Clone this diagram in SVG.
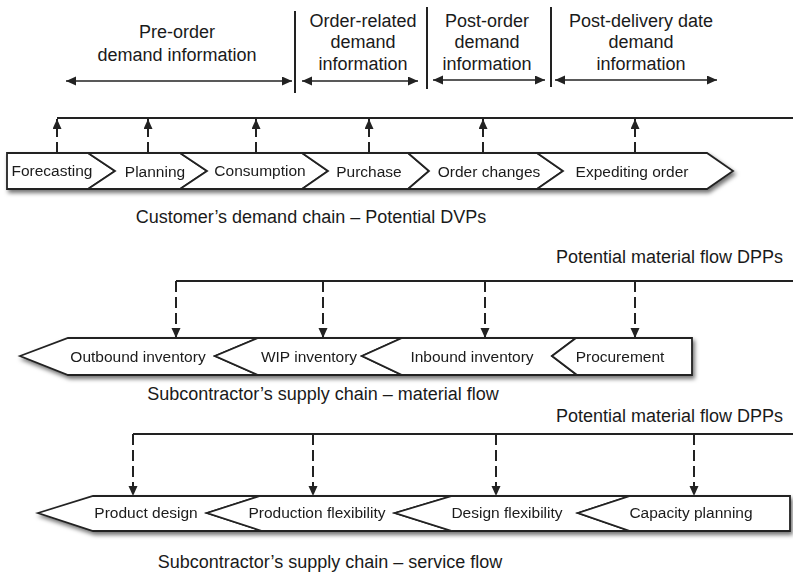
<svg xmlns="http://www.w3.org/2000/svg" width="793" height="576" viewBox="0 0 793 576">
<defs>
<marker id="ah" markerUnits="userSpaceOnUse" markerWidth="10" markerHeight="10" refX="10" refY="4.5" orient="auto-start-reverse"><path d="M0,0 L10,4.5 L0,9 Z" fill="#222"/></marker>
<filter id="sh" x="-5%" y="-20%" width="110%" height="160%"><feDropShadow dx="2" dy="3" stdDeviation="2" flood-color="#000" flood-opacity="0.55"/></filter>
<style>
text{font-family:"Liberation Sans",Arial,sans-serif;fill:#1a1a1a}
.h{font-size:18px;text-anchor:middle}
.cap{font-size:18px;text-anchor:middle}
.n{font-size:15.5px;text-anchor:middle}
.ch{fill:#fff;stroke:#222;stroke-width:1.8;stroke-linejoin:miter}
.ln{fill:none;stroke:#222;stroke-width:2}
.da{fill:none;stroke:#222;stroke-width:2;stroke-dasharray:11 5}
.dbl{fill:none;stroke:#222;stroke-width:1.6;marker-start:url(#ah);marker-end:url(#ah)}
.sep{stroke:#222;stroke-width:2}
</style>
</defs>
<rect width="793" height="576" fill="#fff"/>

<g id="header">
<line class="sep" x1="295" y1="11" x2="295" y2="93"/>
<line class="sep" x1="427" y1="7" x2="427" y2="89"/>
<line class="sep" x1="551" y1="7" x2="551" y2="87"/>
<text class="h" x="177" y="38">Pre-order</text>
<text class="h" x="177" y="61">demand information</text>
<text class="h" x="363" y="27">Order-related</text>
<text class="h" x="363" y="48">demand</text>
<text class="h" x="363" y="70">information</text>
<text class="h" x="487" y="27">Post-order</text>
<text class="h" x="487" y="48">demand</text>
<text class="h" x="487" y="70">information</text>
<text class="h" x="641" y="27">Post-delivery date</text>
<text class="h" x="641" y="48">demand</text>
<text class="h" x="641" y="70">information</text>
</g>

<g id="connectors">
<line class="dbl" x1="66" y1="81" x2="292" y2="81"/>
<line class="dbl" x1="302" y1="81" x2="418" y2="81"/>
<line class="dbl" x1="433" y1="80" x2="545" y2="80"/>
<line class="dbl" x1="555" y1="80" x2="717" y2="80"/>
<polyline class="ln" points="57,118 793,118"/>
<line class="da" x1="57" y1="153" x2="57" y2="119" marker-end="url(#ah)"/>
<line class="da" x1="148" y1="153" x2="148" y2="119" marker-end="url(#ah)"/>
<line class="da" x1="256" y1="153" x2="256" y2="119" marker-end="url(#ah)"/>
<line class="da" x1="369" y1="153" x2="369" y2="119" marker-end="url(#ah)"/>
<line class="da" x1="483" y1="153" x2="483" y2="119" marker-end="url(#ah)"/>
<line class="da" x1="635" y1="153" x2="635" y2="119" marker-end="url(#ah)"/>
<polyline class="ln" points="176,281 793,281"/>
<line class="da" x1="176" y1="281" x2="176" y2="338" marker-end="url(#ah)"/>
<line class="da" x1="323" y1="281" x2="323" y2="338" marker-end="url(#ah)"/>
<line class="da" x1="485" y1="281" x2="485" y2="338" marker-end="url(#ah)"/>
<line class="da" x1="635" y1="281" x2="635" y2="338" marker-end="url(#ah)"/>
<polyline class="ln" points="133,434 793,434"/>
<line class="da" x1="133" y1="434" x2="133" y2="496" marker-end="url(#ah)"/>
<line class="da" x1="313" y1="434" x2="313" y2="496" marker-end="url(#ah)"/>
<line class="da" x1="496" y1="434" x2="496" y2="496" marker-end="url(#ah)"/>
<line class="da" x1="694" y1="434" x2="694" y2="496" marker-end="url(#ah)"/>
</g>

<g id="row1" filter="url(#sh)">
<g id="forecasting"><polygon class="ch" points="7,153 88,153 115,171 88,189 7,189"/><text class="n" x="52" y="176">Forecasting</text></g>
<g id="planning"><polygon class="ch" points="88,153 180,153 207,171 180,189 88,189 115,171"/><text class="n" x="155" y="177">Planning</text></g>
<g id="consumption"><polygon class="ch" points="180,153 302,153 328,171 302,189 180,189 207,171"/><text class="n" x="260" y="176">Consumption</text></g>
<g id="purchase"><polygon class="ch" points="302,153 408,153 429,171 408,189 302,189 328,171"/><text class="n" x="369" y="177">Purchase</text></g>
<g id="order-changes"><polygon class="ch" points="408,153 537,153 563,171 537,189 408,189 429,171"/><text class="n" x="489" y="177">Order changes</text></g>
<g id="expediting-order"><polygon class="ch" points="537,153 707,153 733,171 707,189 537,189 563,171"/><text class="n" x="632" y="177">Expediting order</text></g>
</g>
<text id="cap1" class="cap" x="311" y="223">Customer’s demand chain – Potential DVPs</text>

<text id="dpp1" style="font-size:18px;text-anchor:end" x="783" y="263">Potential material flow DPPs</text>
<g id="row2" filter="url(#sh)">
<g id="outbound"><polygon class="ch" points="20,356 68,338 258,338 215,356 258,375 68,375"/><text class="n" x="138" y="362">Outbound inventory</text></g>
<g id="wip"><polygon class="ch" points="215,356 258,338 402,338 362,356 402,375 258,375"/><text class="n" x="309" y="362">WIP inventory</text></g>
<g id="inbound"><polygon class="ch" points="362,356 402,338 576,338 552,356 577,375 402,375"/><text class="n" x="472" y="362">Inbound inventory</text></g>
<g id="procurement"><polygon class="ch" points="552,356 576,338 692,338 692,375 577,375"/><text class="n" x="620" y="362">Procurement</text></g>
</g>
<text id="cap2" class="cap" x="323" y="400">Subcontractor’s supply chain – material flow</text>

<text id="dpp2" style="font-size:18px;text-anchor:end" x="783" y="422">Potential material flow DPPs</text>
<g id="row3" filter="url(#sh)">
<g id="product-design"><polygon class="ch" points="38,513 93,496 260,496 207,513 262,531 93,531"/><text class="n" x="146" y="518">Product design</text></g>
<g id="production-flexibility"><polygon class="ch" points="207,513 260,496 452,496 395,513 452,531 262,531"/><text class="n" x="317" y="518">Production flexibility</text></g>
<g id="design-flexibility"><polygon class="ch" points="395,513 452,496 630,496 578,513 630,531 452,531"/><text class="n" x="507" y="518">Design flexibility</text></g>
<g id="capacity-planning"><polygon class="ch" points="578,513 630,496 790,496 790,531 630,531"/><text class="n" x="691" y="518">Capacity planning</text></g>
</g>
<text id="cap3" class="cap" x="330" y="568">Subcontractor’s supply chain – service flow</text>
</svg>
